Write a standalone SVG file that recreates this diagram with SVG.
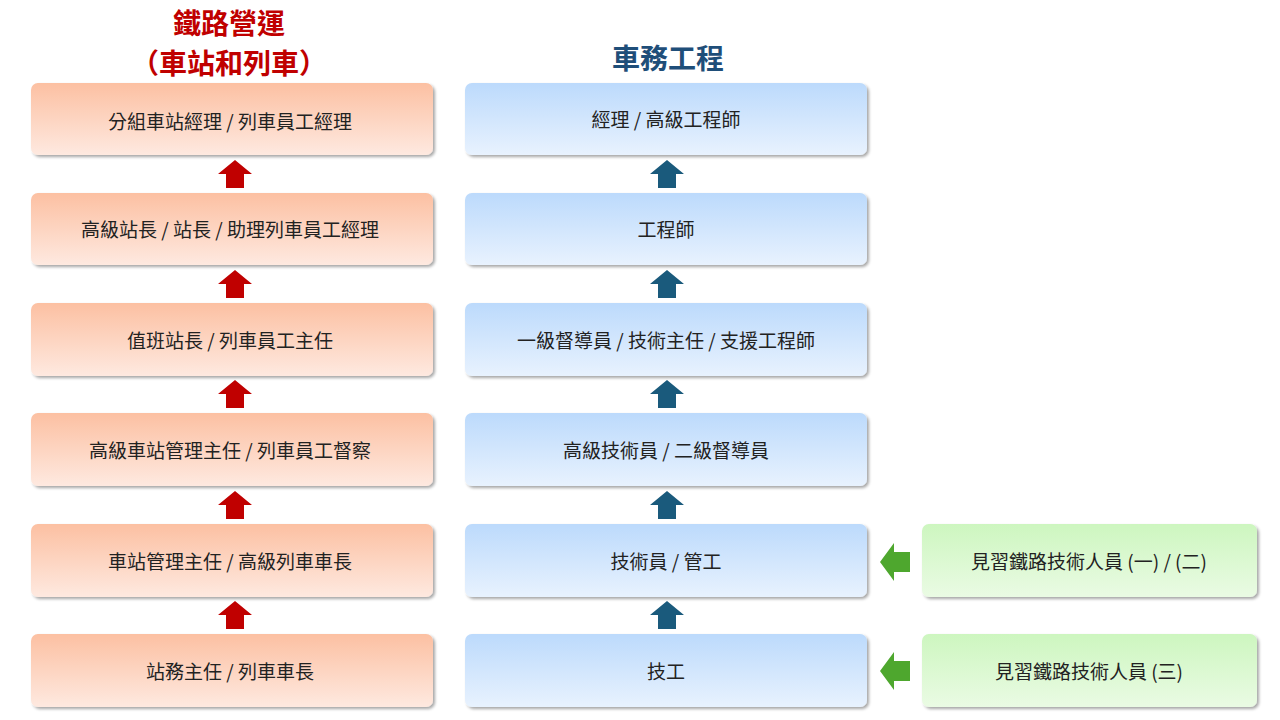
<svg xmlns="http://www.w3.org/2000/svg" width="1280" height="720" viewBox="0 0 1280 720">
<defs>
<linearGradient id="gr" x1="0" y1="0" x2="0" y2="1"><stop offset="0" stop-color="#fcc0a2"/><stop offset="1" stop-color="#fee9e0"/></linearGradient>
<linearGradient id="gb" x1="0" y1="0" x2="0" y2="1"><stop offset="0" stop-color="#bcdafc"/><stop offset="1" stop-color="#e8f2fe"/></linearGradient>
<linearGradient id="gg" x1="0" y1="0" x2="0" y2="1"><stop offset="0" stop-color="#cdf6bf"/><stop offset="1" stop-color="#eafbe4"/></linearGradient>
<filter id="sh" x="-5%" y="-10%" width="112%" height="130%"><feDropShadow dx="2" dy="2" stdDeviation="1.5" flood-color="#000" flood-opacity="0.35"/></filter>
<path id="up" d="M-17,14 L0,0 L17,14 L9,14 L9,28 L-9,28 L-9,14 Z"/>
<path id="lf" d="M0,19 L14,0 L14,9 L30,9 L30,29 L14,29 L14,38 Z"/>
</defs>
<style>
text{font-family:"Noto Sans CJK TC","Liberation Sans",sans-serif;text-anchor:middle;dominant-baseline:central}
.t{font-size:19px;fill:#222}
.h{font-size:28px;font-weight:bold}
.r rect{fill:url(#gr)}.b rect{fill:url(#gb)}.g rect{fill:url(#gg)}
rect{filter:url(#sh)}
</style>
<rect width="1280" height="720" fill="#fff" style="filter:none"/>
<text class="h" x="229" y="22" fill="#c00000">鐵路營運</text>
<text class="h" x="229" y="62" fill="#c00000">（車站和列車）</text>
<text class="h" x="668" y="57" fill="#1f4e79">車務工程</text>
<g id="r1" class="r"><rect x="31" y="83" width="402" height="72" rx="7"/><text class="t" x="230" y="120">分組車站經理 / 列車員工經理</text></g>
<g id="r2" class="r"><rect x="31" y="193" width="402" height="72" rx="7"/><text class="t" x="230" y="228">高級站長 / 站長 / 助理列車員工經理</text></g>
<g id="r3" class="r"><rect x="31" y="303" width="402" height="73" rx="7"/><text class="t" x="230" y="339">值班站長 / 列車員工主任</text></g>
<g id="r4" class="r"><rect x="31" y="413" width="402" height="73" rx="7"/><text class="t" x="230" y="449">高級車站管理主任 / 列車員工督察</text></g>
<g id="r5" class="r"><rect x="31" y="524" width="402" height="73" rx="7"/><text class="t" x="230" y="560">車站管理主任 / 高級列車車長</text></g>
<g id="r6" class="r"><rect x="31" y="634" width="402" height="73" rx="7"/><text class="t" x="230" y="670">站務主任 / 列車車長</text></g>
<g id="b1" class="b"><rect x="465" y="83" width="402" height="72" rx="7"/><text class="t" x="666" y="118">經理 / 高級工程師</text></g>
<g id="b2" class="b"><rect x="465" y="193" width="402" height="72" rx="7"/><text class="t" x="666" y="228">工程師</text></g>
<g id="b3" class="b"><rect x="465" y="303" width="402" height="73" rx="7"/><text class="t" x="666" y="339">一級督導員 / 技術主任 / 支援工程師</text></g>
<g id="b4" class="b"><rect x="465" y="413" width="402" height="73" rx="7"/><text class="t" x="666" y="449">高級技術員 / 二級督導員</text></g>
<g id="b5" class="b"><rect x="465" y="524" width="402" height="73" rx="7"/><text class="t" x="666" y="560">技術員 / 管工</text></g>
<g id="b6" class="b"><rect x="465" y="634" width="402" height="73" rx="7"/><text class="t" x="666" y="670">技工</text></g>
<g id="g1" class="g"><rect x="922" y="524" width="335" height="73" rx="7"/><text class="t" x="1089" y="560">見習鐵路技術人員 (一) / (二)</text></g>
<g id="g2" class="g"><rect x="922" y="634" width="335" height="73" rx="7"/><text class="t" x="1089" y="670">見習鐵路技術人員 (三)</text></g>
<g id="connectors">
<g fill="#c00000">
<use href="#up" x="235" y="160"/><use href="#up" x="235" y="270"/><use href="#up" x="235" y="380"/><use href="#up" x="235" y="491"/><use href="#up" x="235" y="601"/>
</g>
<g fill="#1a5a7c">
<use href="#up" x="667" y="160"/><use href="#up" x="667" y="270"/><use href="#up" x="667" y="380"/><use href="#up" x="667" y="491"/><use href="#up" x="667" y="601"/>
</g>
<g fill="#4ea72e">
<use href="#lf" x="880" y="543"/><use href="#lf" x="880" y="652"/>
</g>
</g>
</svg>
